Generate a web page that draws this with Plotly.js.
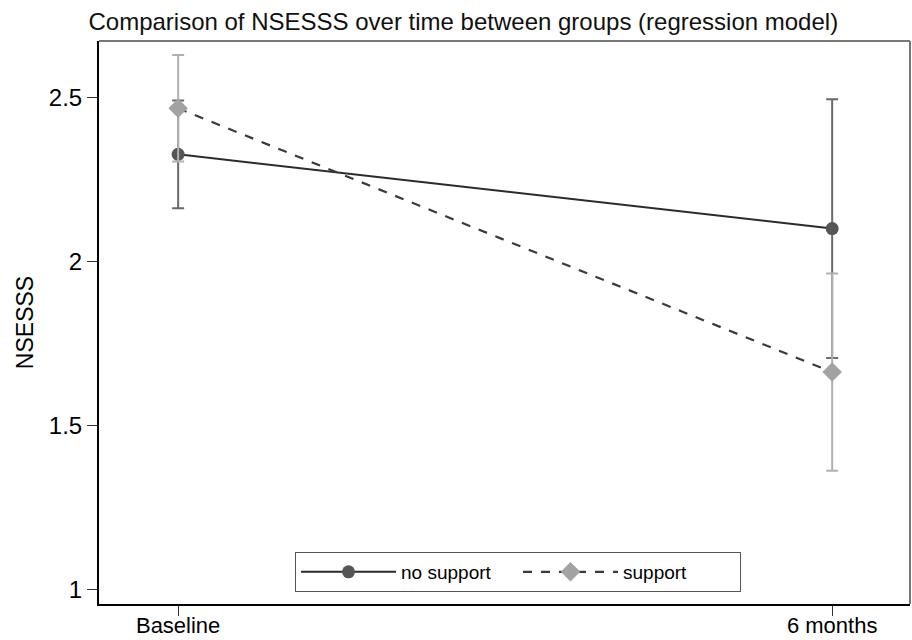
<!DOCTYPE html>
<html>
<head>
<meta charset="utf-8">
<script src="https://cdn.plot.ly/plotly-3.0.1.min.js"></script>
<style>body{margin:0;background:#fff;}#chart{width:912px;height:640px;}</style>
</head>
<body>
<div id="chart"></div>
<script>
var timepoints = ["Baseline", "6 months"];
var xpos = [0, 1];
var noSupport = [2.326, 2.100];
var noSupportErr = [0.164, 0.394];
var support = [2.466, 1.663];
var supportErr = [0.162, 0.300];
var yTicks = [1, 1.5, 2, 2.5];
var yTickLabels = ["1", "1.5", "2", "2.5"];

var traces = [
  {
    x: xpos, y: noSupport, name: "no support", type: "scatter", mode: "lines+markers",
    line: {color: "#2b2b2b", width: 2},
    marker: {symbol: "circle", size: 13, color: "#555555"},
    error_y: {type: "data", array: noSupportErr, visible: true, color: "#6a6a6a", thickness: 2, width: 6}
  },
  {
    x: xpos, y: support, name: "support", type: "scatter", mode: "lines+markers",
    line: {color: "#3a3a3a", width: 2.2, dash: "dash"},
    marker: {symbol: "diamond", size: 15, color: "#a2a2a2"},
    error_y: {type: "data", array: supportErr, visible: true, color: "#b0b0b0", thickness: 2, width: 6}
  }
];

var layout = {
  width: 912, height: 640,
  margin: {l: 99, r: 2, t: 41, b: 36},
  paper_bgcolor: "#ffffff", plot_bgcolor: "#ffffff",
  font: {family: "Liberation Sans, Arial, sans-serif", color: "#000", size: 24},
  title: {text: "Comparison of NSESSS over time between groups (regression model)",
          x: 0.508, xanchor: "center", y: 0.967, yanchor: "middle", xref: "container",
          font: {size: 24, color: "#111"}},
  xaxis: {range: [-0.121, 1.119], tickvals: xpos, ticktext: timepoints,
          showgrid: false, zeroline: false, showline: true, linecolor: "#000", linewidth: 2,
          ticks: "outside", ticklen: 10, tickcolor: "#333", tickwidth: 1,
          ticklabelstandoff: -9,
          tickfont: {size: 22}},
  yaxis: {range: [0.957, 2.671], tickvals: yTicks, ticktext: yTickLabels,
          showgrid: false, zeroline: false, showline: true, linecolor: "#000", linewidth: 2,
          ticks: "outside", ticklen: 10, tickcolor: "#333", tickwidth: 1,
          tickfont: {size: 24},
          title: {text: "NSESSS", font: {size: 23}, standoff: 9}},
  showlegend: true,
  legend: {orientation: "h", x: 0.2417, xanchor: "left", y: 0.0924, yanchor: "top",
           bgcolor: "#ffffff", bordercolor: "#555", borderwidth: 1,
           font: {size: 19}, itemwidth: 95, entrywidth: 112, entrywidthmode: "pixels", tracegroupgap: 0},
  shapes: [
    {type: "line", xref: "paper", yref: "paper", x0: 0, x1: 1, y0: 1, y1: 1, line: {color: "#777", width: 2}},
    {type: "line", xref: "paper", yref: "paper", x0: 1, x1: 1, y0: 0, y1: 1, line: {color: "#777", width: 2}}
  ]
};

Plotly.newPlot("chart", traces, layout, {displayModeBar: false});
</script>
</body>
</html>
